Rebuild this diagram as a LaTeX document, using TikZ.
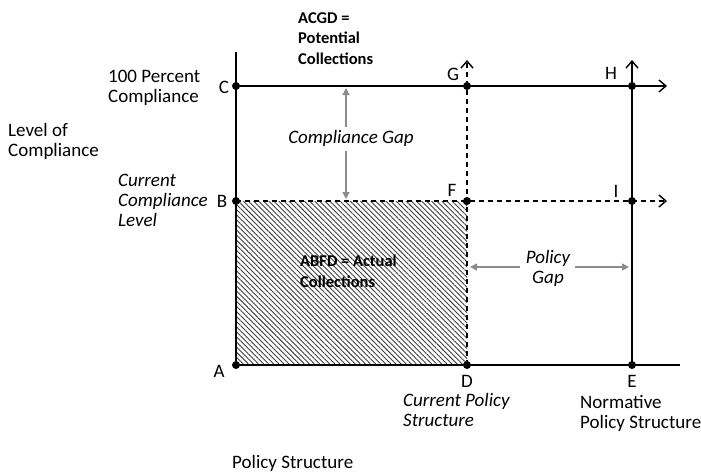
\documentclass[tikz,border=0pt]{standalone}
\usepackage{fontspec}
\setmainfont{Carlito}
\usetikzlibrary{arrows.meta,patterns.meta}
\begin{document}
\begin{tikzpicture}[x=1pt,y=-1pt,
  dot/.style={circle,fill=black,inner sep=0pt,minimum size=8pt},
  lbl/.style={inner sep=0pt,anchor=base,font=\fontsize{19}{20}\selectfont},
  blbl/.style={inner sep=0pt,anchor=base west,align=left,font=\fontsize{16.5}{20.5}\selectfont\bfseries},
  txt/.style={inner sep=0pt,anchor=base west,align=left,font=\fontsize{19}{20}\selectfont},
  itxt/.style={inner sep=0pt,anchor=base west,align=left,font=\fontsize{19}{20}\selectfont\itshape},
  axis/.style={line width=1.8pt},
  dline/.style={line width=1.4pt,dash pattern=on 5pt off 4pt},
  open/.style={-{Straight Barb[length=7pt,width=12pt,line width=1.4pt]}},
  gapar/.style={black!45,line width=1.4pt,-{Triangle[length=7pt,width=7pt]}}
]
\useasboundingbox (0,0) rectangle (701,472);
% hatched area
\pattern[pattern={Lines[angle=-45,distance=3.6pt,line width=0.9pt]},pattern color=black!75]
  (236,365) rectangle (467,201);
% points
\coordinate (Atop) at (236,52);
\coordinate (Xend) at (680,365);
\coordinate (Hend) at (667,86);
\coordinate (Iend) at (667,201);
\coordinate (Gtop) at (467,60);
\coordinate (Etop) at (632,60);
% lines
\draw[axis] (236,365) -- (Atop);
\draw[axis] (236,365) -- (Xend);
\draw[axis,open] (236,86) -- (Hend);
\draw[dline,open] (236,201) -- (Iend);
\draw[dline,open] (467,365) -- (Gtop);
\draw[axis,open] (632,365) -- (Etop);
% dots
\node[dot] (A) at (236,365) {};
\node[dot] (B) at (236,201) {};
\node[dot] (C) at (236,86) {};
\node[dot] (D) at (467,365) {};
\node[dot] (E) at (632,365) {};
\node[dot] (F) at (467,201) {};
\node[dot] (G) at (467,86) {};
\node[dot] (H) at (632,86) {};
\node[dot] (I) at (632,201) {};
% point labels
\node[lbl] (lA) at (219,377) {A};
\node[lbl] (lB) at (222,207) {B};
\node[lbl] (lC) at (224,93) {C};
\node[lbl] (lD) at (467,387) {D};
\node[lbl] (lE) at (632,387) {E};
\node[lbl] (lF) at (452,196) {F};
\node[lbl] (lG) at (453,80) {G};
\node[lbl] (lH) at (611,79) {H};
\node[lbl] (lI) at (616,197) {I};
% texts (base = baseline of last line)
\node[blbl] (acgd) at (298,64) {ACGD =\\Potential\\Collections};
\node[blbl] (abfd) at (300,287) {ABFD = Actual\\Collections};
\node[txt] (hundred) at (108,102) {100 Percent\\Compliance};
\node[txt] (level) at (8,156) {Level of\\Compliance};
\node[itxt] (curc) at (118,226) {Current\\Compliance\\Level};
\node[itxt] (curp) at (403,426) {Current Policy\\Structure};
\node[txt] (norm) at (580,428) {Normative\\Policy Structure};
\node[txt] (ps) at (232,468) {Policy Structure};
\node[itxt,anchor=base] (cgap) at (351,143) {Compliance Gap};
\node[itxt,anchor=base,align=center] (pgap) at (548,283) {Policy\\Gap};
% gap arrows
\draw[gapar] (346,127) -- (346,88);
\draw[gapar] (346,151) -- (346,199);
\draw[gapar] (520,267) -- (470,267);
\draw[gapar] (575,267) -- (629,267);
\end{tikzpicture}
\end{document}
